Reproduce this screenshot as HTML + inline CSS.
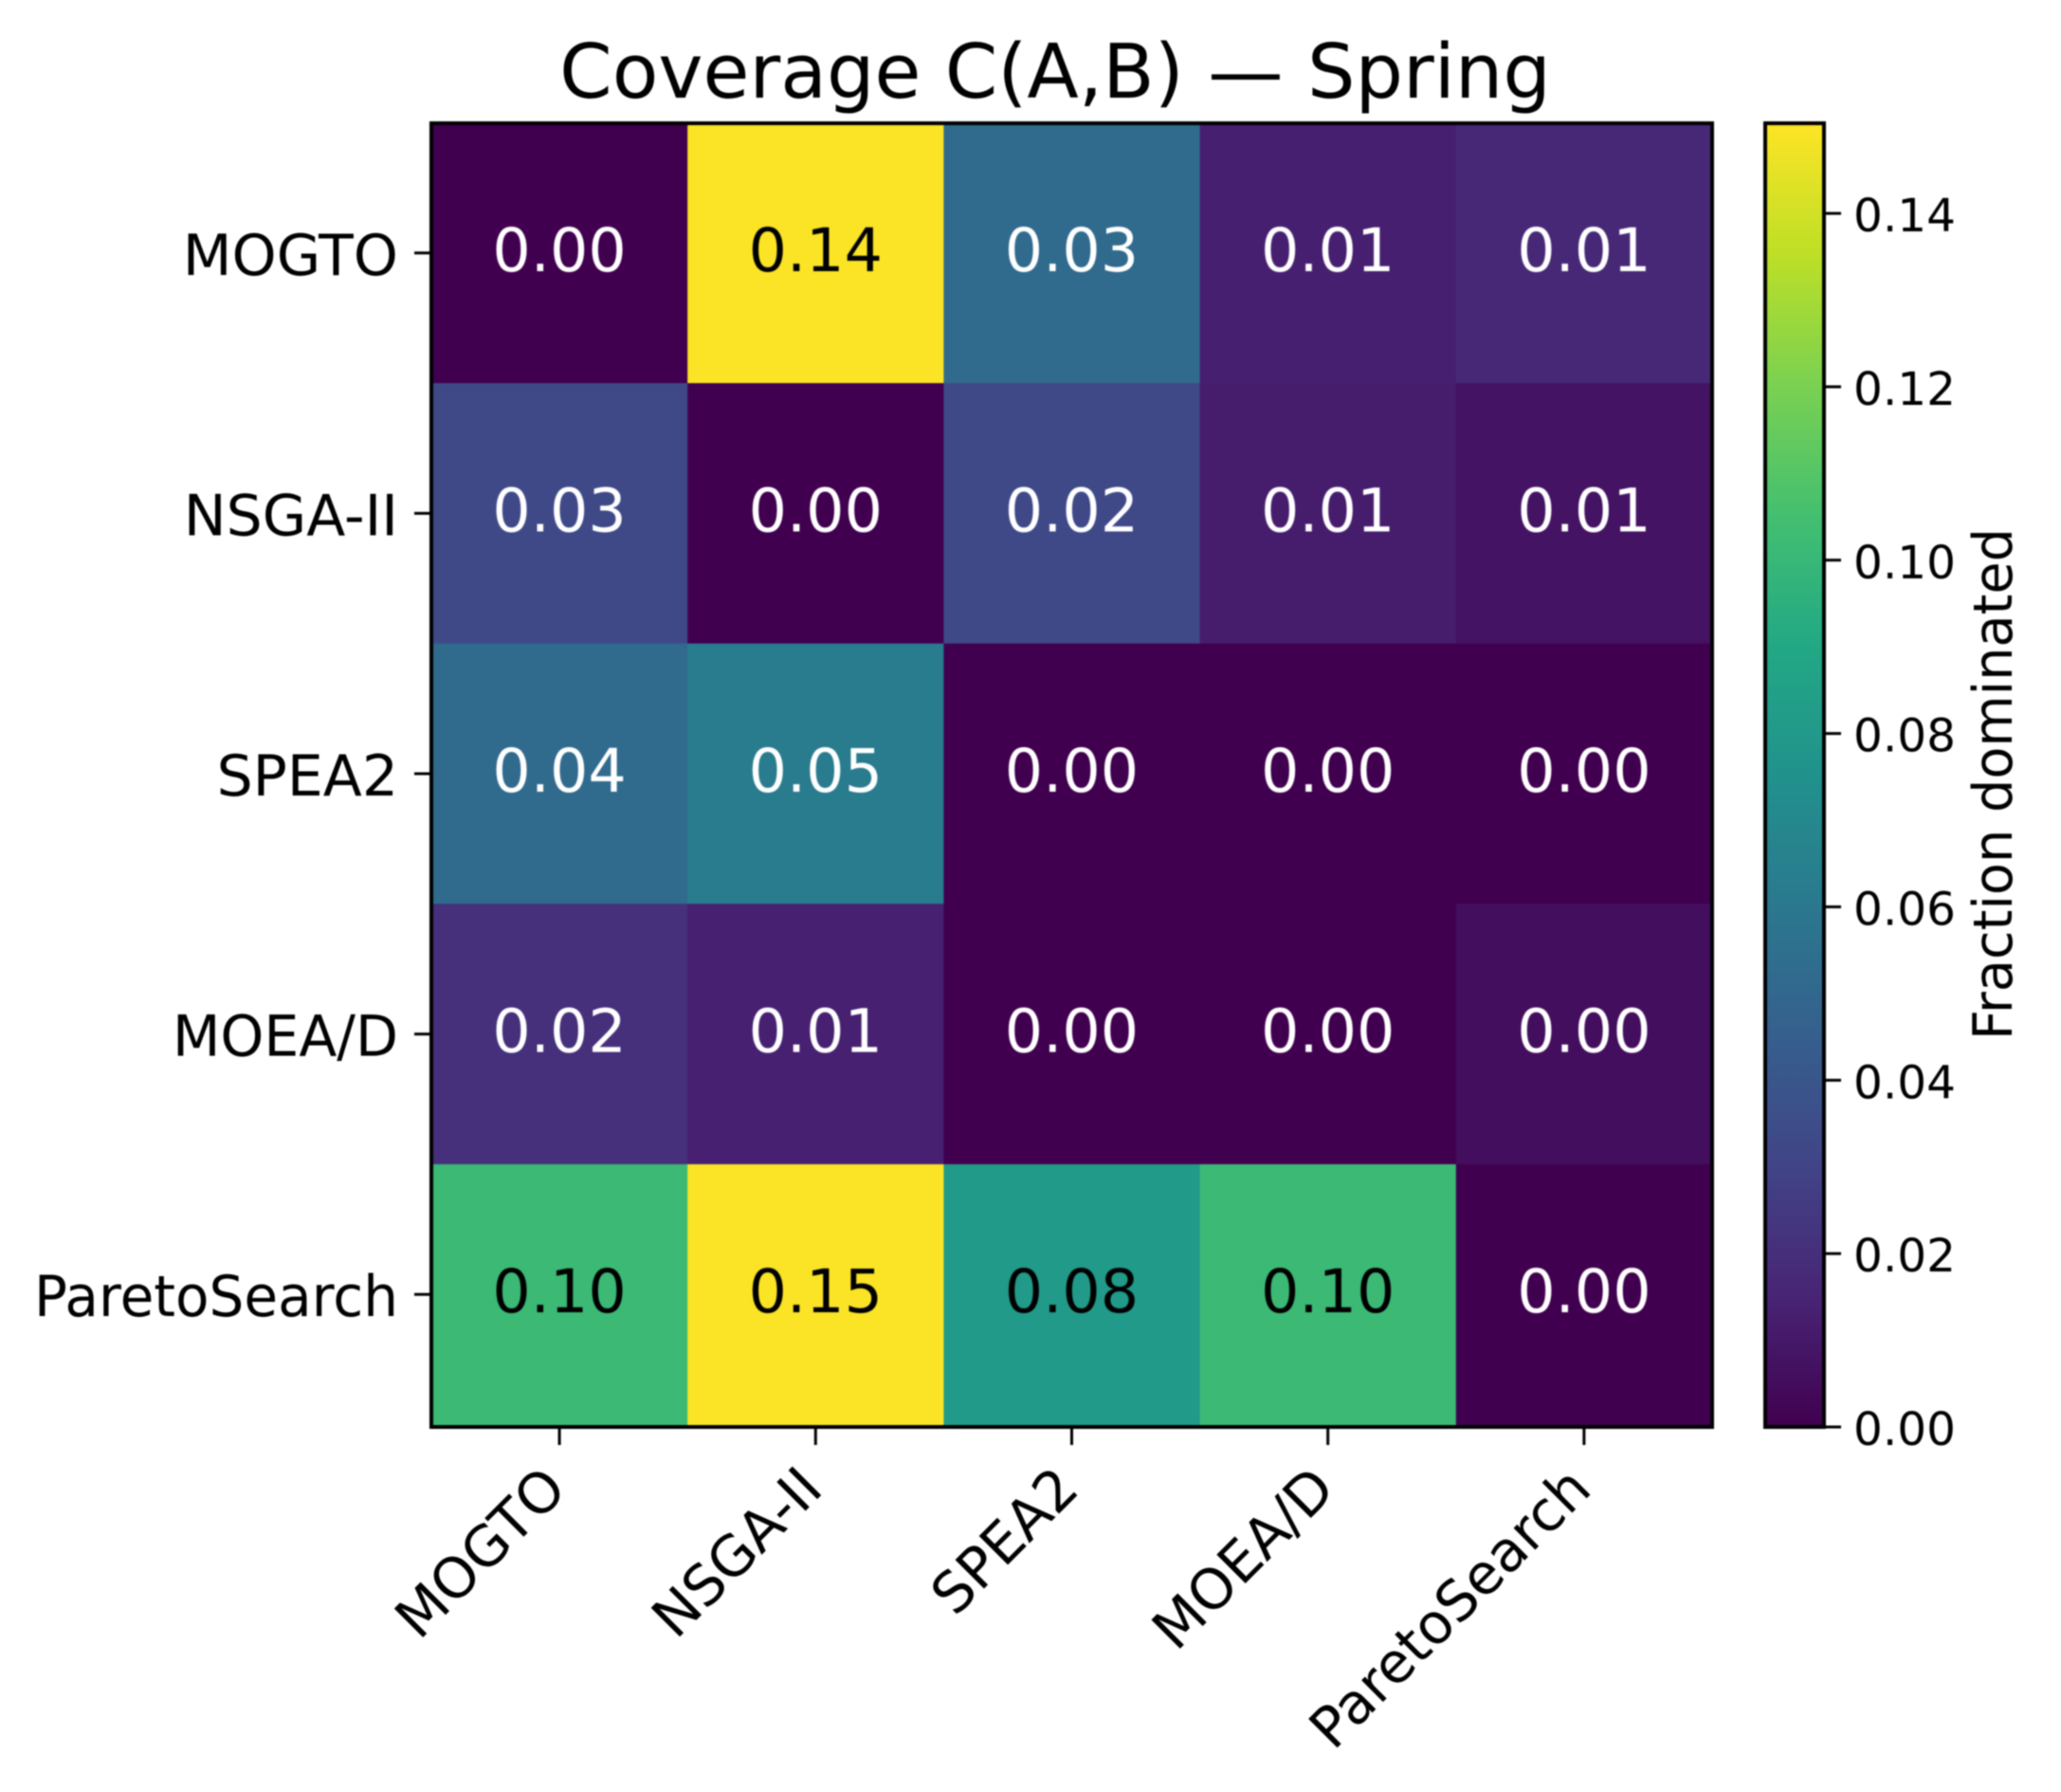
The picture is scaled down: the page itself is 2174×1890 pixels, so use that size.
<!DOCTYPE html>
<html lang="en">
<head>
<meta charset="utf-8">
<title>Coverage C(A,B) — Spring</title>
<style>
  html, body { margin: 0; padding: 0; background: #ffffff; }
  #chart { display: block; width: 2174px; height: 1890px; font-family: "DejaVu Sans", "Liberation Sans", sans-serif; filter: blur(0.7px); }
  text { fill: #000000; }
</style>
</head>
<body>
<svg id="chart" xmlns="http://www.w3.org/2000/svg" width="2174" height="1890" viewBox="0 0 2174 1890">
  <defs>
    <linearGradient id="viridis-gradient" x1="0" y1="1" x2="0" y2="0"></linearGradient>
  </defs>
  <rect x="0" y="0" width="2174" height="1890" fill="#ffffff"></rect>
  <text x="1113" y="103" font-size="79.6" text-anchor="middle">Coverage C(A,B) — Spring</text>
  <g id="cells"></g>
  <g id="cell-text"></g>
  <rect x="455" y="130" width="1351" height="1375" fill="none" stroke="#000000" stroke-width="4"></rect>
  <g id="x-axis"></g>
  <g id="y-axis"></g>
  <rect x="1862" y="130" width="62" height="1375" fill="url(#viridis-gradient)"></rect>
  <rect x="1862" y="130" width="62" height="1375" fill="none" stroke="#000000" stroke-width="4"></rect>
  <g id="colorbar-axis"></g>
  <text x="2122" y="827" font-size="57" text-anchor="middle" textLength="540" lengthAdjust="spacingAndGlyphs" transform="rotate(-90 2122 827)">Fraction dominated</text>
</svg>
<script>
const rowNames = ["MOGTO", "NSGA-II", "SPEA2", "MOEA/D", "ParetoSearch"];
const colNames = ["MOGTO", "NSGA-II", "SPEA2", "MOEA/D", "ParetoSearch"];
const rowMOGTO = [0.000, 0.150, 0.052, 0.013, 0.017];
const rowNSGA = [0.033, 0.000, 0.033, 0.012, 0.008];
const rowSPEA = [0.052, 0.062, 0.000, 0.000, 0.000];
const rowMOEA = [0.020, 0.0135, 0.000, 0.000, 0.006];
const rowPareto = [0.1015, 0.150, 0.081, 0.1015, 0.000];
const labelsMOGTO = ["0.00", "0.14", "0.03", "0.01", "0.01"];
const labelsNSGA = ["0.03", "0.00", "0.02", "0.01", "0.01"];
const labelsSPEA = ["0.04", "0.05", "0.00", "0.00", "0.00"];
const labelsMOEA = ["0.02", "0.01", "0.00", "0.00", "0.00"];
const labelsPareto = ["0.10", "0.15", "0.08", "0.10", "0.00"];
const colorbarTicks = [0, 0.02, 0.04, 0.06, 0.08, 0.10, 0.12, 0.14];
const colorbarTickLabels = ["0.00", "0.02", "0.04", "0.06", "0.08", "0.10", "0.12", "0.14"];
const colorMax = 0.1504;
const viridisStops = ["#40004f", "#482475", "#414487", "#355f8d", "#2a788e", "#21918c", "#22a884", "#44bf70", "#7ad151", "#bddf26", "#fde425"];

const grid = [rowMOGTO, rowNSGA, rowSPEA, rowMOEA, rowPareto];
const printed = [labelsMOGTO, labelsNSGA, labelsSPEA, labelsMOEA, labelsPareto];
const NS = "http://www.w3.org/2000/svg";

const xEdge = function (i) { return 455 + i * 270.2; };
const yEdge = function (i) { return 129.5 + i * 274.6; };
const xCenter = function (i) { return xEdge(i + 0.5); };
const yCenter = function (i) { return yEdge(i + 0.5); };
const colorbarY = function (v) { return 1505 - (v / colorMax) * 1375; };

function hexToRgb(h) {
  return [parseInt(h.slice(1, 3), 16), parseInt(h.slice(3, 5), 16), parseInt(h.slice(5, 7), 16)];
}
function viridis(v) {
  const t = Math.max(0, Math.min(1, v / colorMax)) * (viridisStops.length - 1);
  const i = Math.min(Math.floor(t), viridisStops.length - 2);
  const f = t - i;
  const a = hexToRgb(viridisStops[i]);
  const b = hexToRgb(viridisStops[i + 1]);
  return "rgb(" + a.map(function (c, k) { return Math.round(c + (b[k] - c) * f); }).join(",") + ")";
}
function svgEl(tag, parent) {
  const el = document.createElementNS(NS, tag);
  parent.appendChild(el);
  return el;
}
function tickLine(parent, x1, y1, x2, y2) {
  const el = svgEl("line", parent);
  el.setAttribute("x1", x1);
  el.setAttribute("y1", y1);
  el.setAttribute("x2", x2);
  el.setAttribute("y2", y2);
  el.setAttribute("stroke", "#000000");
  el.setAttribute("stroke-width", "3");
  return el;
}

const gradient = document.getElementById("viridis-gradient");
viridisStops.forEach(function (c, i) {
  const stop = svgEl("stop", gradient);
  stop.setAttribute("offset", i / (viridisStops.length - 1));
  stop.setAttribute("stop-color", c);
});

const cellsGroup = document.getElementById("cells");
const cellTextGroup = document.getElementById("cell-text");
grid.forEach(function (row, r) {
  row.forEach(function (value, c) {
    const cell = svgEl("rect", cellsGroup);
    cell.setAttribute("x", xEdge(c));
    cell.setAttribute("y", yEdge(r));
    cell.setAttribute("width", xEdge(c + 1) - xEdge(c) + 0.5);
    cell.setAttribute("height", yEdge(r + 1) - yEdge(r) + (r === grid.length - 1 ? 3 : 0.5));
    cell.setAttribute("fill", viridis(value));
    
    

    const label = svgEl("text", cellTextGroup);
    label.setAttribute("x", xCenter(c));
    label.setAttribute("y", yCenter(r) + 19);
    label.setAttribute("font-size", "63.5");
    label.setAttribute("text-anchor", "middle");
    label.style.fill = value > colorMax * 0.5 ? "#000000" : "#ffffff";
    label.textContent = printed[r][c];
    
    
  });
});

const xAxis = document.getElementById("x-axis");
colNames.forEach(function (name, i) {
  const tick = tickLine(xAxis, xCenter(i), 1507, xCenter(i), 1524);
  
  

  const px = xCenter(i) + 10;
  const py = 1573;
  const label = svgEl("text", xAxis);
  label.setAttribute("x", px);
  label.setAttribute("y", py);
  label.setAttribute("font-size", "59");
  label.setAttribute("text-anchor", "end");
  label.setAttribute("transform", "rotate(-45 " + px + " " + py + ")");
  if (name === "ParetoSearch") {
    label.setAttribute("textLength", "388");
    label.setAttribute("lengthAdjust", "spacingAndGlyphs");
  }
  label.textContent = name;
  
  
});

const yAxis = document.getElementById("y-axis");
rowNames.forEach(function (name, i) {
  const tick = tickLine(yAxis, 437, yCenter(i), 453, yCenter(i));
  
  

  const label = svgEl("text", yAxis);
  label.setAttribute("x", 420);
  label.setAttribute("y", yCenter(i) + 23);
  label.setAttribute("font-size", "60");
  label.setAttribute("text-anchor", "end");
  if (name === "ParetoSearch") {
    label.setAttribute("textLength", "384");
    label.setAttribute("lengthAdjust", "spacingAndGlyphs");
  }
  if (name === "MOEA/D") {
    label.setAttribute("textLength", "238");
    label.setAttribute("lengthAdjust", "spacingAndGlyphs");
  }
  label.textContent = name;
  
  
});

const colorbarAxis = document.getElementById("colorbar-axis");
colorbarTicks.forEach(function (value, i) {
  const y = colorbarY(value);
  const tick = tickLine(colorbarAxis, 1926, y, 1942, y);
  
  

  const label = svgEl("text", colorbarAxis);
  label.setAttribute("x", 1955);
  label.setAttribute("y", y + 19);
  label.setAttribute("font-size", "48.5");
  label.textContent = colorbarTickLabels[i];
  
  
});
</script>
</body>
</html>
